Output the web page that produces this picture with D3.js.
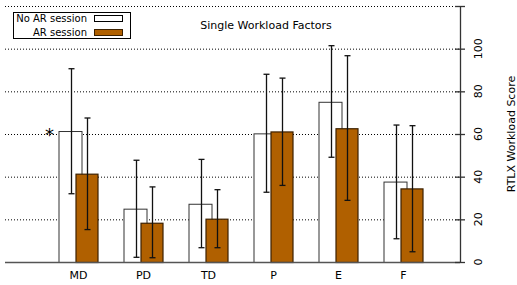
<!DOCTYPE html>
<html>
<head>
<meta charset="utf-8">
<script src="https://cdn.jsdelivr.net/npm/d3@7"></script>
<style>
  body { margin: 0; background: #fff; }
  text { font-family: "DejaVu Sans", sans-serif; }
</style>
</head>
<body>
<svg id="chart"></svg>
<script>
const width = 517;
const height = 285;

const categories = ["MD", "PD", "TD", "P", "E", "F"];
const noArMean = [61.4, 25.0, 27.3, 60.3, 75.1, 37.7];
const noArLow = [32.0, 2.2, 6.7, 32.7, 49.1, 10.9];
const noArHigh = [90.6, 47.7, 48.1, 88.0, 101.4, 64.2];
const arMean = [41.4, 18.4, 20.3, 61.2, 62.7, 34.5];
const arLow = [15.2, 2.0, 6.7, 35.9, 28.9, 4.8];
const arHigh = [67.5, 35.2, 33.9, 86.2, 96.7, 63.9];
const yTicks = [0, 20, 40, 60, 80, 100, 120];
const significant = ["MD"];

const brown = "#b06000";

const x = d3.scaleBand().domain(categories).range([46, 436]).paddingInner(0);
const y = d3.scaleLinear().domain([0, 120]).range([262, 6]);
const axisX = 460;
const left = 5;

const svg = d3.select("#chart").attr("width", width).attr("height", height);

// grid lines
svg.append("g").selectAll("line").data(yTicks.filter(t => t > 0)).enter()
    .append("line")
    .attr("x1", left).attr("x2", axisX)
    .attr("y1", d => y(d) + 0.5).attr("y2", d => y(d) + 0.5)
    .attr("stroke", "#000")
    .attr("stroke-width", 1)
    .attr("stroke-dasharray", "1,2");

// rows of data for each series
const rows = categories.map((c, i) => ({
    cat: c,
    no: { m: noArMean[i], lo: noArLow[i], hi: noArHigh[i] },
    ar: { m: arMean[i], lo: arLow[i], hi: arHigh[i] }
}));

// white bars
svg.append("g").selectAll("rect").data(rows).enter()
    .append("rect")
    .attr("x", d => x(d.cat) + x.bandwidth() / 2 - 19.5)
    .attr("y", d => y(d.no.m) + 0.5)
    .attr("width", 23)
    .attr("height", d => y(0) - y(d.no.m))
    .attr("fill", "#fff")
    .attr("stroke", "#333")
    .attr("stroke-width", 1);

function errBars(g, key, dx, col) {
    const grp = g.append("g");
    rows.forEach(d => {
        const cx = Math.round(x(d.cat) + x.bandwidth() / 2 + dx) + 0.5;
        const v = d[key];
        grp.append("line").attr("x1", cx).attr("x2", cx)
            .attr("y1", y(v.hi)).attr("y2", y(v.lo))
            .attr("stroke", col).attr("stroke-width", 1.3);
        [v.hi, v.lo].forEach(e => {
            grp.append("line").attr("x1", cx - 3).attr("x2", cx + 3)
                .attr("y1", y(e)).attr("y2", y(e))
                .attr("stroke", col).attr("stroke-width", 1.3);
        });
    });
}

errBars(svg, "no", -8, "#111");

// brown bars
svg.append("g").selectAll("rect").data(rows).enter()
    .append("rect")
    .attr("x", d => x(d.cat) + x.bandwidth() / 2 - 2.5)
    .attr("y", d => y(d.ar.m) + 0.5)
    .attr("width", 22)
    .attr("height", d => y(0) - y(d.ar.m))
    .attr("fill", brown)
    .attr("stroke", "#3d2100")
    .attr("stroke-width", 1.2);

errBars(svg, "ar", 8.5, "#111");

// baseline
svg.append("line")
    .attr("x1", left).attr("x2", axisX)
    .attr("y1", y(0) + 0.5).attr("y2", y(0) + 0.5)
    .attr("stroke", "#555").attr("stroke-width", 1.5);

// significance marker
svg.selectAll(".star").data(rows.filter(d => significant.includes(d.cat))).enter()
    .append("text")
    .attr("x", d => x(d.cat) + x.bandwidth() / 2 - 29)
    .attr("y", d => y(d.no.m) + 10)
    .attr("text-anchor", "middle")
    .attr("font-size", 18)
    .text("*");

// category labels
svg.append("g").selectAll("text").data(categories).enter()
    .append("text")
    .attr("x", d => x(d) + x.bandwidth() / 2)
    .attr("y", 279)
    .attr("text-anchor", "middle")
    .attr("font-size", 11)
    .text(d => d);

// right y axis
svg.append("line")
    .attr("x1", axisX + 0.5).attr("x2", axisX + 0.5)
    .attr("y1", y(120)).attr("y2", y(0) + 1)
    .attr("stroke", "#333").attr("stroke-width", 1.3);

svg.append("g").selectAll("line").data(yTicks).enter()
    .append("line")
    .attr("x1", axisX - 5).attr("x2", axisX + 5)
    .attr("y1", d => y(d) + 0.5).attr("y2", d => y(d) + 0.5)
    .attr("stroke", "#333").attr("stroke-width", 1.3);

svg.append("g").selectAll("text").data(yTicks.filter(t => t < 120)).enter()
    .append("text")
    .attr("transform", d => "translate(482," + y(d) + ") rotate(-90)")
    .attr("text-anchor", "middle")
    .attr("font-size", 11)
    .text(d => d);

svg.append("text")
    .attr("transform", "translate(515,134) rotate(-90)")
    .attr("text-anchor", "middle")
    .attr("font-size", 11)
    .text("RTLX Workload Score");

// title
svg.append("text")
    .attr("x", 266)
    .attr("y", 29)
    .attr("text-anchor", "middle")
    .attr("font-size", 11)
    .text("Single Workload Factors");

// legend
const legend = svg.append("g");
legend.append("rect")
    .attr("x", 13.5).attr("y", 12.5)
    .attr("width", 117).attr("height", 26)
    .attr("fill", "#fff").attr("stroke", "#000");

const legendItems = [
    { label: "No AR session", fill: "#fff", stroke: "#000" },
    { label: "AR session", fill: brown, stroke: "#3d2100" }
];

legend.selectAll("text").data(legendItems).enter()
    .append("text")
    .attr("x", 87)
    .attr("y", (d, i) => 22 + i * 14)
    .attr("text-anchor", "end")
    .attr("font-size", 10)
    .text(d => d.label);

legend.selectAll(".sw").data(legendItems).enter()
    .append("rect")
    .attr("x", 94.5)
    .attr("y", (d, i) => 15.5 + i * 14)
    .attr("width", 28)
    .attr("height", 6)
    .attr("fill", d => d.fill)
    .attr("stroke", d => d.stroke);
</script>
</body>
</html>
